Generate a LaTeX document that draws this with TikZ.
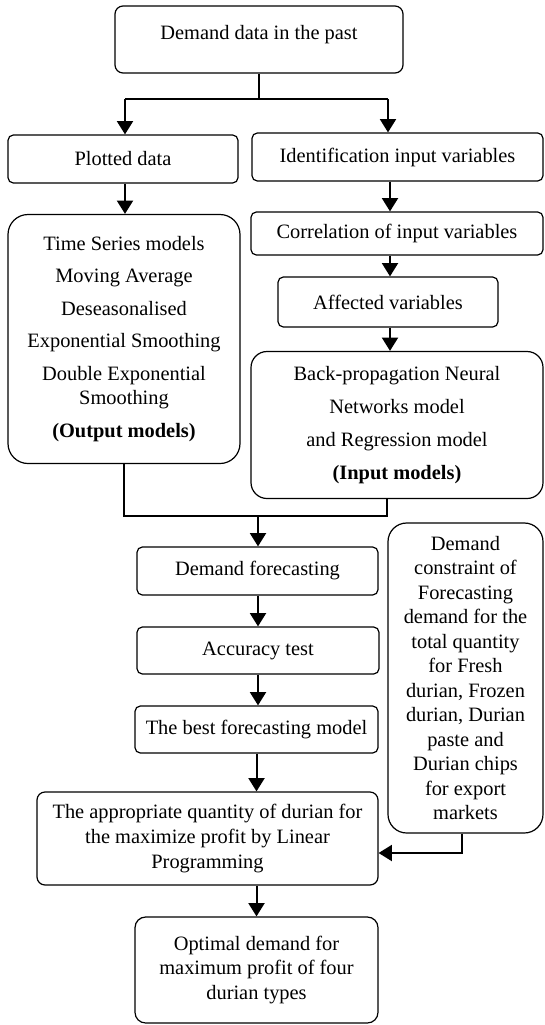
\documentclass[tikz,border=0pt]{standalone}
\usepackage{fontspec}
\setmainfont{Liberation Serif}
\usetikzlibrary{arrows.meta}
\begin{document}
\begin{tikzpicture}[x=0.75pt,y=-0.75pt,
  box/.style={draw, line width=0.9pt, rounded corners=4pt, align=center, inner sep=0pt,
              font=\fontsize{15.3}{18.4}\selectfont},
  arr/.style={line width=1.5pt, -{Triangle[width=12pt,length=10pt]}},
  ln/.style={line width=1pt}]
\useasboundingbox (0,0) rectangle (545,1025);

% boxes
\node[box, rounded corners=6pt, minimum width=216pt, minimum height=50.25pt, text depth=10.5pt] (top) at (259,39.5) {Demand data in the past};
\node[box, minimum width=172.5pt, minimum height=36pt] (plot) at (123,159) {Plotted data};
\node[box, minimum width=218.25pt, minimum height=36pt] (ident) at (397.5,157) {Identification input variables};
\node[box, minimum width=219pt, minimum height=32.25pt] (corr) at (397,233.5) {Correlation of input variables};
\node[box, minimum width=165pt, minimum height=37.5pt] (aff) at (388,302) {Affected variables};
\node[box, rounded corners=15pt, minimum width=174pt, minimum height=186.75pt] (ts) at (124,339)
  {Time Series models\\[6pt] Moving Average\\[6pt] Deseasonalised\\[6pt] Exponential Smoothing\\[6pt] Double Exponential\\ Smoothing\\[6pt] \textbf{(Output models)}};
\node[box, rounded corners=12pt, minimum width=219pt, minimum height=110.25pt] (bp) at (397,425)
  {Back-propagation Neural\\[6.3pt] Networks model\\[6.3pt] and Regression model\\[6.3pt] \textbf{(Input models)}};
\node[box, minimum width=180.75pt, minimum height=36pt] (df) at (257.5,571) {Demand forecasting};
\node[box, minimum width=181.5pt, minimum height=35.25pt] (acc) at (258,650.5) {Accuracy test};
\node[box, minimum width=182.25pt, minimum height=35.25pt] (best) at (256.5,729.5) {The best forecasting model};
\node[box, rounded corners=14pt, minimum width=116.25pt, minimum height=232.5pt] (cons) at (465.5,678)
  {Demand\\ constraint of\\ Forecasting\\ demand for the\\ total quantity\\ for Fresh\\ durian, Frozen\\ durian, Durian\\ paste and\\ Durian chips\\ for export\\ markets};
\node[box, rounded corners=6pt, minimum width=255.75pt, minimum height=69.75pt] (lp) at (207.5,838.5)
  {The appropriate quantity of durian for\\ the maximize profit by Linear\\ Programming};
\node[box, rounded corners=8pt, minimum width=182.25pt, minimum height=79.5pt] (opt) at (256.5,970)
  {Optimal demand for\\ maximum profit of four\\ durian types};

% junction coordinates
\coordinate (split) at (259,99);
\coordinate (sL) at (125,99);
\coordinate (sR) at (388,99);
\coordinate (xR) at (390,0);
\coordinate (mL) at (124,516);
\coordinate (mR) at (387,516);
\coordinate (mC) at (258,516);
\coordinate (cB) at (462,853);

% connectors
\draw[ln] (top.south) -- (split);
\draw[line width=1.4pt] (sL) -- (sR);
\draw[arr] (sL) -- (sL |- plot.north);
\draw[arr] (sR) -- (sR |- ident.north);
\draw[arr] (plot.south -| sL) -- (sL |- ts.north);
\draw[arr] (ident.south -| xR) -- (corr.north -| xR);
\draw[arr] (corr.south -| xR) -- (aff.north -| xR);
\draw[arr] (aff.south -| xR) -- (bp.north -| xR);
\draw[ln] (ts.south) -- (mL) -- (mR) -- (bp.south -| mR);
\draw[arr] (mC) -- (mC |- df.north);
\draw[arr] (df.south -| mC) -- (acc.north -| mC);
\draw[arr] (acc.south) -- (best.north -| acc.south);
\draw[arr] (best.south) -- (lp.north -| best.south);
\draw[arr] (lp.south -| best.south) -- (opt.north -| best.south);
\draw[arr] (cons.south -| cB) -- (cB) -- (lp.east |- cB);
\end{tikzpicture}
\end{document}
